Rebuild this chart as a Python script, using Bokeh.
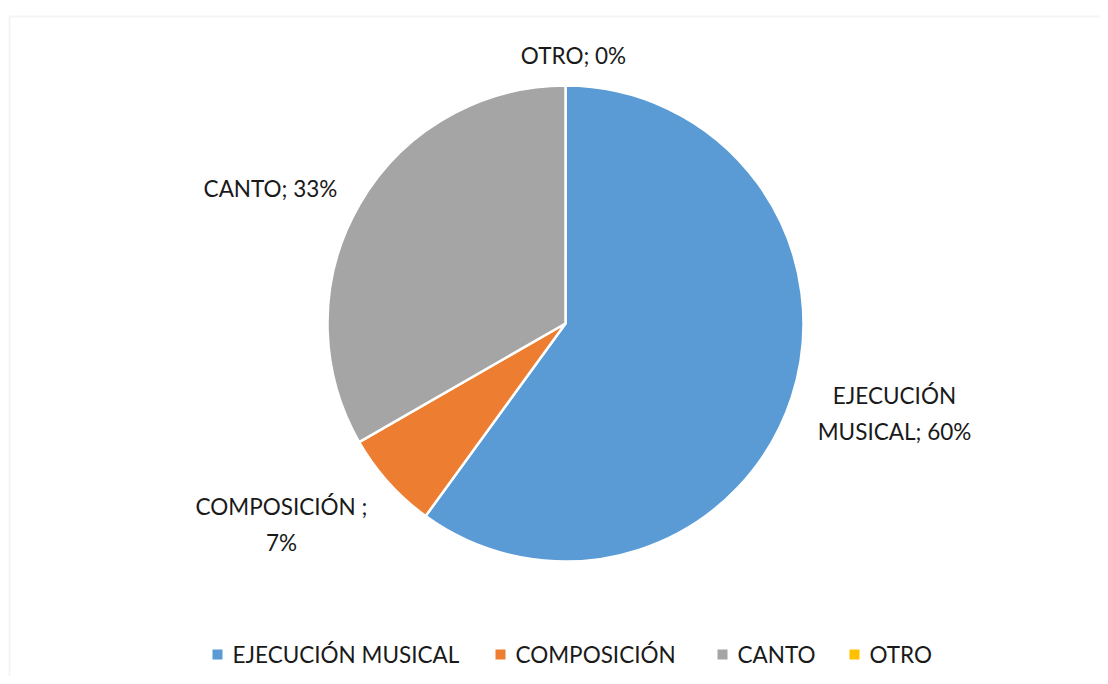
import math
from bokeh.plotting import figure
from bokeh.models import Range1d, BoxAnnotation, ColumnDataSource
from bokeh.core.properties import value
from bokeh.embed import file_html
from bokeh.resources import INLINE

# ---- data ----
categories = ["EJECUCIÓN MUSICAL", "COMPOSICIÓN", "CANTO", "OTRO"]
shares = [60.0, 6.7, 33.3, 0.0]          # percent
colors = ["#5B9BD5", "#ED7D31", "#A5A5A5", "#FFC000"]
label_texts = ["EJECUCIÓN\nMUSICAL; {}%", "COMPOSICIÓN ;\n{}%", "CANTO; {}%", "OTRO; {}%"]

# ---- layout (pixels of the canvas, y up) ----
W, H = 1100, 676
cx, cy, R = 565, 353, 238
label_pos = [(894, 263), (281, 152), (270, 488), (573, 621)]
legend_sq_x = [212, 495, 717, 849]
legend_y = 22
FONT = "Lato"
FS = "22.5px"

p = figure(width=W, height=H, output_backend="svg", toolbar_location=None,
           x_range=Range1d(0, W), y_range=Range1d(0, H),
           min_border=0, min_border_left=0, min_border_right=0,
           min_border_top=0, min_border_bottom=0)
p.axis.visible = False
p.grid.visible = False
p.outline_line_color = None
p.background_fill_color = "white"
p.border_fill_color = "white"

# chart border (left & top visible, rest cropped)
p.add_layout(BoxAnnotation(left=9, right=W + 50, top=H - 16, bottom=-50,
                           fill_alpha=0, line_color="#D9D9D9", line_width=2))

total = sum(shares)
starts, ends, wcols = [], [], []
cum = 0.0
for s, c in zip(shares, colors):
    a0 = math.pi / 2 - 2 * math.pi * cum / total
    cum += s
    a1 = math.pi / 2 - 2 * math.pi * cum / total
    if s > 0:
        starts.append(a0)
        ends.append(a1)
        wcols.append(c)

src = ColumnDataSource(dict(start=starts, end=ends, color=wcols))
p.wedge(x=cx, y=cy, radius=R, start_angle="start", end_angle="end", direction="clock",
        fill_color="color", line_color="white", line_width=2.5, source=src)

# data labels
lab = [t.format(round(s)) for t, s in zip(label_texts, shares)]
lsrc = ColumnDataSource(dict(x=[q[0] for q in label_pos], y=[q[1] for q in label_pos], t=lab))
p.text(x="x", y="y", text="t", source=lsrc, text_align="center", text_baseline="middle",
       text_font=value(FONT), text_font_size=FS, text_color="#1a1a1a",
       text_line_height=1.3)

# legend
gsrc = ColumnDataSource(dict(x=[v + 5 for v in legend_sq_x], y=[legend_y] * 4,
                             tx=[v + 20 for v in legend_sq_x], c=colors, t=categories))
p.scatter(x="x", y="y", marker="square", size=10, fill_color="c", line_color=None, source=gsrc)
p.text(x="tx", y="y", text="t", source=gsrc, text_align="left", text_baseline="middle",
       text_font=value(FONT), text_font_size=FS, text_color="#1a1a1a")

open("out.html", "w").write(file_html(p, INLINE))
